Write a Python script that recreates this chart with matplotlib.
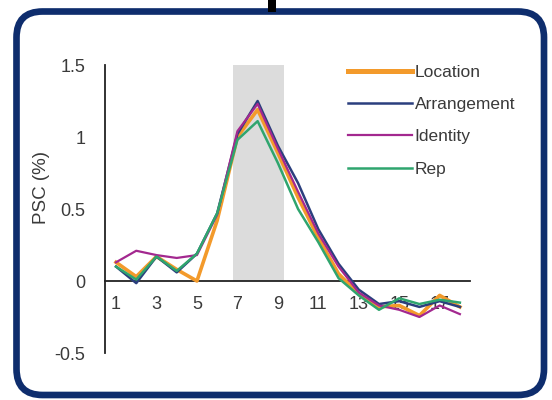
import matplotlib

matplotlib.use("Agg")
import matplotlib.pyplot as plt
from matplotlib.patches import FancyBboxPatch, Rectangle
from matplotlib.transforms import IdentityTransform

plt.rcParams["font.family"] = ["Liberation Sans", "DejaVu Sans"]

# time points (TR) and percent signal change per condition
tr = list(range(1, 19))
location = [0.13, 0.03, 0.17, 0.08, 0.0, 0.42, 1.0, 1.19, 0.89, 0.58, 0.30, 0.05,
            -0.09, -0.18, -0.17, -0.24, -0.10, -0.18]
arrangement = [0.10, -0.015, 0.17, 0.06, 0.19, 0.47, 1.02, 1.25, 0.94, 0.68, 0.36, 0.12,
               -0.06, -0.16, -0.14, -0.18, -0.14, -0.18]
identity = [0.13, 0.21, 0.18, 0.16, 0.18, 0.46, 1.04, 1.23, 0.92, 0.62, 0.33, 0.10,
            -0.08, -0.17, -0.20, -0.25, -0.17, -0.23]
rep = [0.10, 0.01, 0.17, 0.07, 0.19, 0.47, 0.98, 1.11, 0.82, 0.50, 0.27, 0.02,
       -0.10, -0.20, -0.12, -0.16, -0.13, -0.15]

window = (6.8, 9.3)       # shaded analysis window
window_top = 1.545
xticks = [1, 3, 5, 7, 9, 11, 13, 15, 17]
yticks = [-0.5, 0, 0.5, 1, 1.5]
ytick_labels = ["-0.5", "0", "0.5", "1", "1.5"]

SERIES = [
    ("Location", location, "#F39A2B", 2.6),
    ("Arrangement", arrangement, "#2B3F7E", 1.8),
    ("Identity", identity, "#A3288F", 1.6),
    ("Rep", rep, "#2FA56E", 1.8),
]
TXT = "#3a3a3a"

fig = plt.figure(figsize=(5.52, 4.0), dpi=100)
fig.patch.set_facecolor("white")

# rounded navy frame and the connector stub above it (pixel coords)
frame = FancyBboxPatch((16.5, 5), 527.5, 383.5,
                       boxstyle="round,pad=0,rounding_size=26",
                       transform=IdentityTransform(), facecolor="white",
                       edgecolor="#0E2D6D", linewidth=4.8, zorder=0)
fig.add_artist(frame)
fig.add_artist(Rectangle((268, 388), 8, 12, transform=IdentityTransform(),
                         facecolor="black", edgecolor="none", zorder=1))

ax = fig.add_axes([105 / 552, 47 / 400, 365 / 552, 288 / 400])
ax.set_facecolor("none")

ax.fill_between(window, 0, window_top, color="#DCDCDC", lw=0, zorder=1)
for name, vals, col, lw in SERIES:
    ax.plot(tr, vals, color=col, lw=lw, label=name, zorder=3)

ax.set_xlim(0.455, 18.5)
ax.set_ylim(-0.5, 1.5)
for s in ("top", "right"):
    ax.spines[s].set_visible(False)
ax.spines["bottom"].set_position(("data", 0))
for s in ("bottom", "left"):
    ax.spines[s].set_color("#222222")
    ax.spines[s].set_linewidth(1.3)
ax.spines["bottom"].set_zorder(2)

ax.set_xticks(xticks)
ax.set_yticks(yticks)
ax.set_yticklabels(ytick_labels)
ax.tick_params(axis="x", length=0, pad=11, labelsize=13, labelcolor=TXT)
ax.tick_params(axis="y", length=0, pad=14, labelsize=13, labelcolor=TXT)

ax.set_ylabel("PSC (%)", fontsize=13.5, color=TXT)
ax.yaxis.set_label_coords(-0.152, 0.576)

leg = ax.legend(loc="upper left", bbox_to_anchor=(348 / 552, 1 - 65 / 400),
                bbox_transform=fig.transFigure, frameon=False, fontsize=12.5,
                handlelength=3.7, handletextpad=0.15, labelspacing=0.98,
                borderpad=0, borderaxespad=0)
for t in leg.get_texts():
    t.set_color(TXT)
leg.get_lines()[0].set_linewidth(3.6)

fig.savefig("out.png", dpi=100, facecolor="white")
